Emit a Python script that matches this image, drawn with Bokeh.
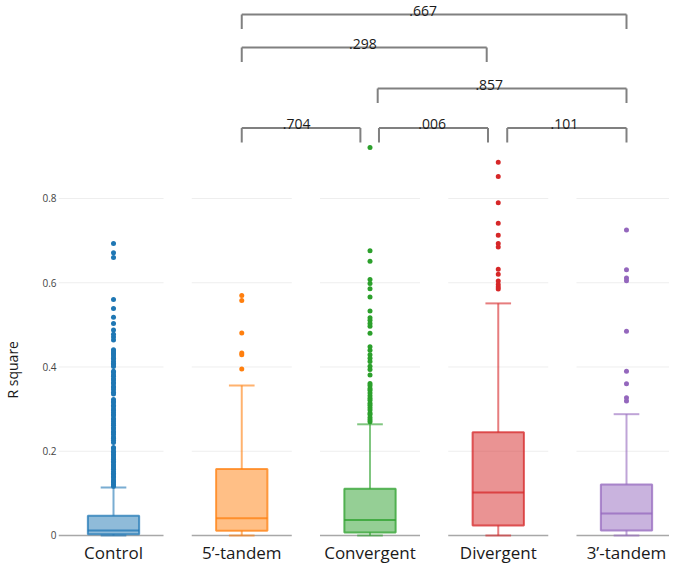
import math
from bokeh.plotting import figure
from bokeh.models import FixedTicker, Range1d, Title
from bokeh.core.properties import value
from bokeh.embed import file_html
from bokeh.resources import INLINE

# ---------------- data ----------------
categories = ["Control", "5’-tandem", "Convergent", "Divergent", "3’-tandem"]
q1 = [0.003, 0.011, 0.007, 0.024, 0.012]
median = [0.012, 0.041, 0.037, 0.102, 0.052]
q3 = [0.047, 0.158, 0.111, 0.245, 0.121]
lower_whisker = [0.0, 0.0, 0.0, 0.0, 0.0]
upper_whisker = [0.114, 0.356, 0.264, 0.551, 0.288]

outliers_control = [
    0.693, 0.671, 0.660, 0.560, 0.539, 0.518, 0.503, 0.488, 0.478, 0.471, 0.464,
    0.441, 0.438, 0.433, 0.431, 0.426, 0.421, 0.419, 0.413, 0.409, 0.406, 0.401,
    0.390, 0.387, 0.381, 0.378, 0.372, 0.369, 0.363, 0.360, 0.354, 0.351, 0.346, 0.340, 0.336,
    0.323, 0.318, 0.315, 0.309, 0.306, 0.300, 0.297, 0.292, 0.287, 0.284, 0.278, 0.275,
    0.270, 0.265, 0.262, 0.256, 0.253, 0.247, 0.244, 0.240, 0.234, 0.231, 0.226, 0.221,
    0.209, 0.206, 0.200, 0.197, 0.192, 0.189, 0.184, 0.181, 0.176, 0.173, 0.168, 0.165,
    0.160, 0.157, 0.152, 0.148, 0.145, 0.140, 0.137, 0.132, 0.128, 0.125, 0.121, 0.117,
]
outliers_5tandem = [0.570, 0.558, 0.481, 0.433, 0.429, 0.395]
outliers_convergent = [
    0.921, 0.676, 0.651, 0.608, 0.598, 0.586, 0.566, 0.533, 0.517, 0.511, 0.503,
    0.497, 0.480, 0.448, 0.440, 0.429, 0.421, 0.413, 0.402, 0.394, 0.381,
    0.361, 0.356, 0.349, 0.345, 0.338, 0.332, 0.326, 0.321, 0.314, 0.309, 0.303,
    0.298, 0.291, 0.287, 0.280, 0.275, 0.270,
]
outliers_divergent = [0.886, 0.852, 0.790, 0.741, 0.713, 0.693, 0.685, 0.632,
                      0.620, 0.604, 0.596, 0.590, 0.585]
outliers_3tandem = [0.725, 0.631, 0.611, 0.605, 0.485, 0.390, 0.360, 0.327, 0.319]
outliers = [outliers_control, outliers_5tandem, outliers_convergent,
            outliers_divergent, outliers_3tandem]

y_ticks = [0, 0.2, 0.4, 0.6, 0.8]
y_tick_labels = ["0", "0.2", "0.4", "0.6", "0.8"]
y_title = "R square"

# significance brackets: (group from, group to, p-value)
bracket_from = ["5’-tandem", "Convergent", "Divergent", "Convergent", "5’-tandem", "5’-tandem"]
bracket_to = ["Convergent", "Divergent", "3’-tandem", "3’-tandem", "Divergent", "3’-tandem"]
bracket_p = [".704", ".006", ".101", ".857", ".298", ".667"]

# ---------------- style ----------------
colors = ["#1f77b4", "#ff7f0e", "#2ca02c", "#d62728", "#9467bd"]
bracket_level = [0.9674, 0.9674, 0.9674, 1.0611, 1.1585, 1.2368]
bracket_x0_off = [0.0, 0.07, 0.07, 0.06, 0.0, 0.0]
bracket_x1_off = [-0.075, -0.08, 0.0, 0.0, -0.09, 0.0]
text_x_off = [-0.035, -0.01, -0.02, -0.10, -0.01, -0.086]
leg = 0.0344
txt_gap = 0.0083
box_w = 0.40
cap_w = 0.20
panel_half = 0.39

x_start, x_end = -0.4289, 4.3353
y_start, y_end = -0.00475, 1.27003

p = figure(frame_width=611, frame_height=537, output_backend="svg", toolbar_location=None,
           x_range=Range1d(x_start, x_end), y_range=Range1d(y_start, y_end),
           min_border_left=58, min_border_right=0, min_border_top=0,
           min_border_bottom=27)
p.outline_line_color = None
p.xgrid.visible = False
p.ygrid.visible = False

n = len(categories)
xs = list(range(n))

# panel grid lines (with gaps between categories)
gx0, gx1, gy, gcol, gw = [], [], [], [], []
for i in xs:
    left = x_start if i == 0 else i - panel_half
    right = x_end if i == n - 1 else i + panel_half
    for t in y_ticks:
        gx0.append(left); gx1.append(right); gy.append(t)
        gcol.append("#a8a8a8" if t == 0 else "#eeeeee")
        gw.append(1.6 if t == 0 else 1.0)
p.segment(x0=gx0, y0=gy, x1=gx1, y1=gy, line_color=gcol, line_width=gw)

# boxes
for i in xs:
    c = colors[i]
    p.vbar(x=[i], width=box_w, bottom=[q1[i]], top=[q3[i]], fill_color=c,
           fill_alpha=0.5, line_color=c, line_alpha=0.75, line_width=2)
    p.segment(x0=[i - box_w / 2], x1=[i + box_w / 2], y0=[median[i]], y1=[median[i]],
              line_color=c, line_alpha=0.75, line_width=2)
    p.segment(x0=[i, i], x1=[i, i], y0=[q3[i], q1[i]], y1=[upper_whisker[i], lower_whisker[i]],
              line_color=c, line_alpha=0.6, line_width=2)
    p.segment(x0=[i - cap_w / 2, i - cap_w / 2], x1=[i + cap_w / 2, i + cap_w / 2],
              y0=[upper_whisker[i], lower_whisker[i]], y1=[upper_whisker[i], lower_whisker[i]],
              line_color=c, line_alpha=0.6, line_width=2)
    p.scatter(x=[i] * len(outliers[i]), y=outliers[i], size=5, marker="circle",
              fill_color=c, line_color=c, line_width=0)

# brackets
bx0, bx1, by, bleg_bot, tx, ty = [], [], [], [], [], []
for k in range(len(bracket_p)):
    a = categories.index(bracket_from[k]) + bracket_x0_off[k]
    b = categories.index(bracket_to[k]) + bracket_x1_off[k]
    h = bracket_level[k]
    bx0.append(a); bx1.append(b); by.append(h)
    bleg_bot.append(h - leg)
    tx.append((a + b) / 2 + text_x_off[k]); ty.append(h + txt_gap)
p.segment(x0=bx0, x1=bx1, y0=by, y1=by, line_color="#808080", line_width=2)
p.segment(x0=bx0, x1=bx0, y0=by, y1=bleg_bot, line_color="#808080", line_width=2)
p.segment(x0=bx1, x1=bx1, y0=by, y1=bleg_bot, line_color="#808080", line_width=2)
p.text(x=tx, y=ty, text=bracket_p, text_font=value("Open Sans"), text_font_size="14px",
       text_align="center", text_baseline="alphabetic", text_color="#1a1a1a")

# axes
p.xaxis.ticker = FixedTicker(ticks=xs)
p.xaxis.major_label_overrides = {i: categories[i] for i in xs}
p.xaxis.major_label_text_font = "Open Sans"
p.xaxis.major_label_text_font_size = "17px"
p.xaxis.major_label_text_color = "#1a1a1a"
p.xaxis.major_label_standoff = 3
p.xaxis.axis_line_color = None
p.xaxis.major_tick_line_color = None
p.xaxis.minor_tick_line_color = None
p.xaxis.major_tick_out = 0
p.xaxis.major_tick_in = 0

p.yaxis.ticker = FixedTicker(ticks=y_ticks)
p.yaxis.major_label_overrides = {y_ticks[i]: y_tick_labels[i] for i in range(len(y_ticks))}
p.yaxis.major_label_text_font = "Open Sans"
p.yaxis.major_label_text_font_size = "10px"
p.yaxis.major_label_text_color = "#444444"
p.yaxis.major_label_standoff = 2
p.yaxis.axis_line_color = None
p.yaxis.major_tick_line_color = None
p.yaxis.minor_tick_line_color = None
p.yaxis.major_tick_out = 0
p.yaxis.major_tick_in = 0
# blank axis label only reserves room, the visible y title is placed below
p.yaxis.axis_label = " "
p.yaxis.axis_label_standoff = 0
p.yaxis.axis_label_text_font_size = "13px"

p.add_layout(Title(text=y_title, align="left", offset=139, standoff=0,
                   vertical_align="bottom",
                   text_font="Open Sans", text_font_size="14px",
                   text_font_style="normal", text_color="#1a1a1a"), "left")

open("out.html", "w").write(file_html(p, INLINE))
